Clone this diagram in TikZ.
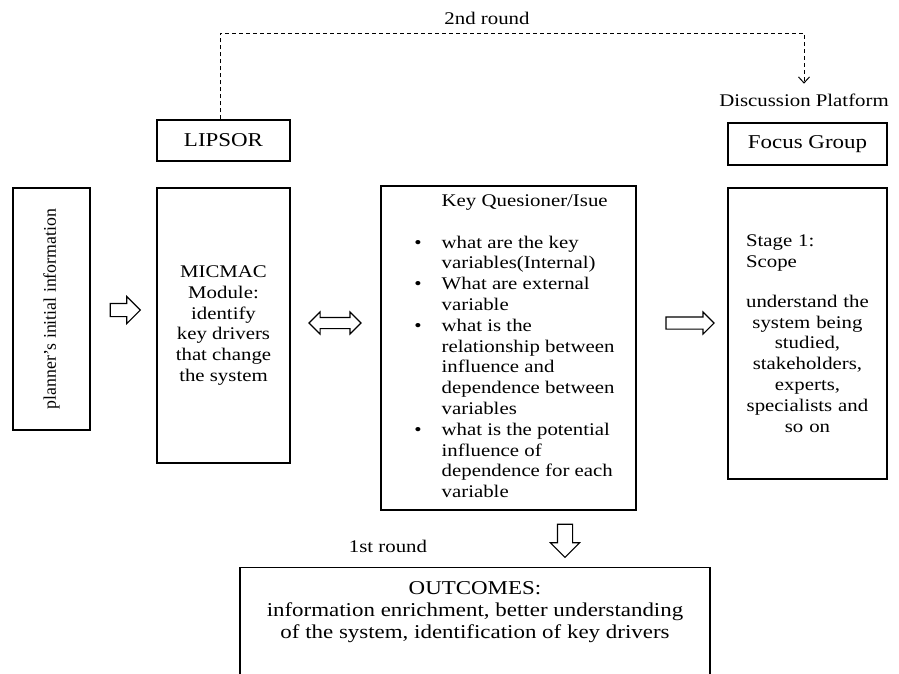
\documentclass[tikz,border=0pt]{standalone}
\usepackage{fontspec}
\setmainfont{Liberation Serif}[FakeStretch=1.17]
\newfontfamily\plainserif{Liberation Serif}
\usepackage{tikz}
\usetikzlibrary{shapes.arrows, arrows.meta}

\newcommand{\diagfont}{\fontsize{17.8}{20.8}\selectfont}
\newcommand{\bigdiagfont}{\fontsize{19.6}{22}\selectfont}
\tikzset{
	box/.style={draw, line width=1.2pt, inner sep=0pt, align=center},
	blockarrow/.style={single arrow, draw, line width=1.1pt, inner xsep=0pt, minimum width=0pt},
	roundlink/.style={line width=1pt, dash pattern=on 4pt off 3pt, -{Straight Barb[length=6pt, width=11pt]}},
	label text/.style={inner sep=1pt}
}

\begin{document}
\begin{tikzpicture}[x=1pt, y=-1pt, font=\diagfont]
	\useasboundingbox (0,0) rectangle (899,673);
	\clip (0,0) rectangle (899,673);
	% Boxes:
	\node[box, rotate=90, minimum width=242pt, minimum height=77pt, font=\fontsize{17.8}{20.8}\plainserif] (planner) at (51.5,309) {planner’s initial information};
	\node[box, minimum width=133pt, minimum height=41pt, font=\bigdiagfont] (lipsor) at (223.5,140.5) {LIPSOR};
	\node[box, minimum width=133pt, minimum height=275pt] (micmac) at (223.5,325.5) {MICMAC\\ Module:\\ identify\\ key drivers\\ that change\\ the system};
	\node[box, minimum width=255pt, minimum height=324pt] (key) at (508.5,348) {\hspace*{12pt}\begin{tabular}{@{}c@{\hspace{20pt}}l@{}}
		& Key Quesioner/Isue\\[20.8pt]
		\textbullet & what are the key\\
		& variables(Internal)\\
		\textbullet & What are external\\
		& variable\\
		\textbullet & what is the\\
		& relationship between\\
		& influence and\\
		& dependence between\\
		& variables\\
		\textbullet & what is the potential\\
		& influence of\\
		& dependence for each\\
		& variable
	\end{tabular}};
	\node[box, minimum width=159pt, minimum height=42pt, font=\bigdiagfont] (focus) at (807.5,144) {Focus Group};
	\node[box, minimum width=159pt, minimum height=291pt, text width=123pt] (stage) at (807.5,333.5) {\makebox[123pt][l]{Stage 1:}\\ \makebox[123pt][l]{Scope}\\[19pt] understand the\\ system being\\ studied,\\ stakeholders,\\ experts,\\ specialists and\\ so on};
	\node[box, anchor=north, inner ysep=14pt, inner xsep=5pt, minimum width=470pt, font=\bigdiagfont] (outcomes) at (475,567) {\parbox[c][130pt][t]{460pt}{\centering OUTCOMES:\\ information enrichment, better understanding\\ of the system, identification of key drivers}};
	% Labels:
	\node[label text] (round2) at (487,18) {2nd round};
	\node[label text, outer sep=9pt] (platform) at (804,100) {Discussion Platform};
	\node[label text] (round1) at (388,546) {1st round};
	% Block arrows:
	\node[blockarrow, minimum height=30pt, inner ysep=6pt, single arrow head extend=7pt] (toMicmac) at (122,310) {};
	\node[double arrow, draw, line width=1.1pt, inner xsep=0pt, minimum width=0pt, minimum height=52pt, inner ysep=5pt, double arrow head extend=5.5pt] (micmacKey) at (335,323) {};
	\node[blockarrow, minimum height=48pt, inner ysep=5.5pt, single arrow head extend=5pt] (toStage) at (687,323) {};
	\node[blockarrow, rotate=-90, minimum height=33pt, inner ysep=7pt, single arrow head extend=7pt] (toOutcomes) at (565,537) {};
	% Second round link:
	\coordinate (top) at (0,33);
	\draw[roundlink] ([xshift=-3pt]lipsor.north) |- (platform.north |- top) -- (platform.north);
\end{tikzpicture}
\end{document}
